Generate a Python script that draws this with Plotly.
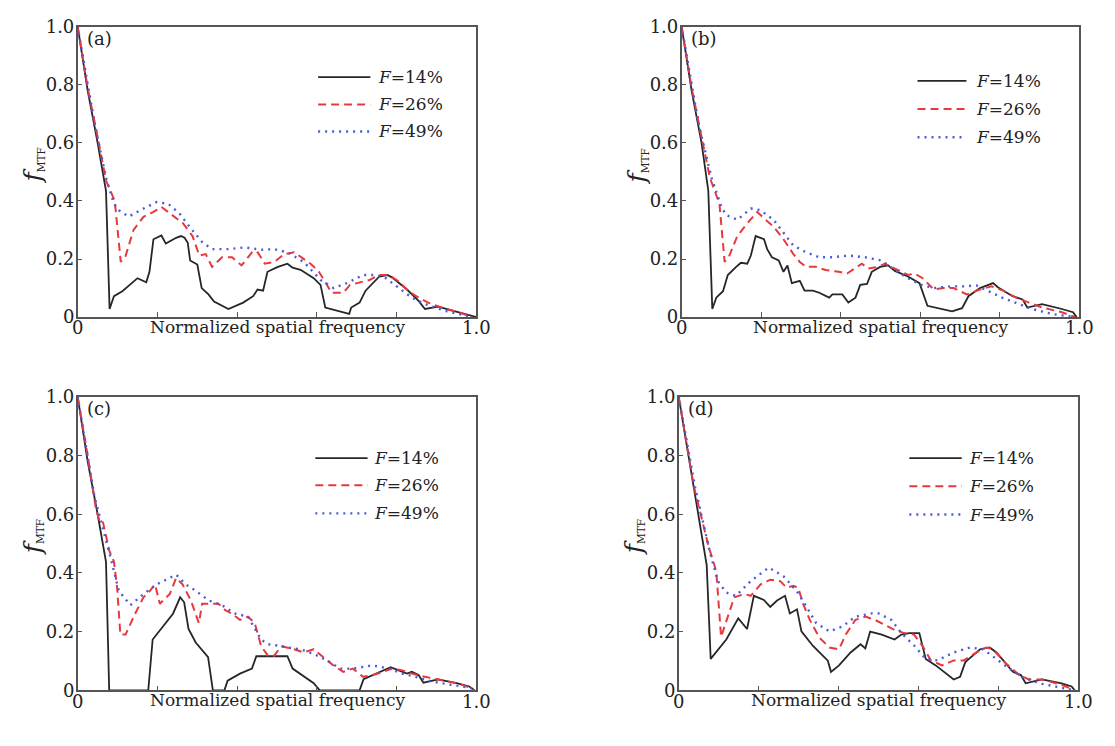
import plotly.graph_objects as go

# ---------------- data: (normalized spatial frequency, f_MTF) ----------------
a_F14 = [(0, 1.0), (0.025, 0.78), (0.05, 0.60), (0.071, 0.435), (0.080, 0.028), (0.091, 0.072), (0.112, 0.089),
         (0.150, 0.134), (0.172, 0.120), (0.180, 0.156), (0.190, 0.268), (0.210, 0.281), (0.221, 0.253),
         (0.247, 0.273), (0.259, 0.279), (0.268, 0.273), (0.276, 0.256), (0.282, 0.195), (0.300, 0.181),
         (0.311, 0.100), (0.328, 0.078), (0.342, 0.054), (0.378, 0.028), (0.415, 0.050), (0.440, 0.072),
         (0.451, 0.095), (0.465, 0.091), (0.476, 0.156), (0.502, 0.173), (0.526, 0.184), (0.539, 0.170),
         (0.559, 0.163), (0.592, 0.134), (0.609, 0.111), (0.621, 0.033), (0.681, 0.011), (0.686, 0.033),
         (0.707, 0.050), (0.722, 0.091), (0.756, 0.139), (0.777, 0.145), (0.789, 0.136), (0.826, 0.095),
         (0.855, 0.056), (0.871, 0.028), (0.904, 0.036), (0.954, 0.017), (0.987, 0.006), (1.0, 0.0)]
a_F26 = [(0, 1.0), (0.025, 0.79), (0.05, 0.62), (0.071, 0.47), (0.093, 0.40), (0.108, 0.19), (0.12, 0.21),
         (0.14, 0.30), (0.165, 0.345), (0.19, 0.362), (0.21, 0.379), (0.231, 0.357), (0.264, 0.323),
         (0.288, 0.279), (0.305, 0.212), (0.321, 0.217), (0.337, 0.173), (0.362, 0.206), (0.387, 0.206),
         (0.411, 0.178), (0.44, 0.228), (0.452, 0.222), (0.469, 0.184), (0.493, 0.19), (0.518, 0.217),
         (0.543, 0.223), (0.584, 0.184), (0.605, 0.156), (0.625, 0.111), (0.637, 0.084), (0.666, 0.084),
         (0.683, 0.111), (0.732, 0.128), (0.756, 0.145), (0.781, 0.145), (0.805, 0.123), (0.83, 0.089),
         (0.855, 0.067), (0.879, 0.05), (0.912, 0.033), (0.954, 0.017), (0.99, 0.0)]
a_F49 = [(0, 1.0), (0.042, 0.669), (0.071, 0.48), (0.091, 0.39), (0.103, 0.368), (0.128, 0.346), (0.157, 0.368),
         (0.198, 0.396), (0.227, 0.39), (0.255, 0.357), (0.28, 0.312), (0.313, 0.257), (0.337, 0.234),
         (0.378, 0.234), (0.42, 0.24), (0.461, 0.232), (0.493, 0.234), (0.526, 0.223), (0.567, 0.19),
         (0.609, 0.128), (0.642, 0.1), (0.675, 0.117), (0.716, 0.145), (0.748, 0.145), (0.773, 0.134),
         (0.806, 0.1), (0.838, 0.067), (0.871, 0.045), (0.92, 0.022), (0.97, 0.006), (0.99, 0.0)]

b_F14 = [(0, 1.0), (0.025, 0.78), (0.05, 0.60), (0.067, 0.435), (0.077, 0.028), (0.087, 0.067), (0.104, 0.089),
         (0.116, 0.145), (0.137, 0.173), (0.149, 0.187), (0.165, 0.184), (0.174, 0.212), (0.186, 0.279),
         (0.207, 0.268), (0.215, 0.234), (0.227, 0.206), (0.244, 0.195), (0.256, 0.156), (0.266, 0.178),
         (0.277, 0.117), (0.297, 0.125), (0.309, 0.091), (0.33, 0.091), (0.346, 0.084), (0.371, 0.067),
         (0.379, 0.078), (0.404, 0.078), (0.419, 0.05), (0.437, 0.067), (0.449, 0.111), (0.466, 0.114),
         (0.478, 0.156), (0.499, 0.173), (0.519, 0.178), (0.536, 0.159), (0.569, 0.14), (0.598, 0.117),
         (0.618, 0.039), (0.68, 0.02), (0.705, 0.031), (0.721, 0.072), (0.75, 0.1), (0.783, 0.117),
         (0.795, 0.103), (0.832, 0.072), (0.857, 0.061), (0.869, 0.033), (0.906, 0.045), (0.956, 0.028),
         (0.984, 0.017), (0.993, 0.0)]
b_F26 = [(0, 1.0), (0.025, 0.79), (0.05, 0.62), (0.071, 0.48), (0.095, 0.39), (0.108, 0.19), (0.12, 0.212),
         (0.14, 0.279), (0.165, 0.323), (0.19, 0.362), (0.211, 0.335), (0.231, 0.312), (0.256, 0.268),
         (0.281, 0.217), (0.297, 0.19), (0.313, 0.173), (0.338, 0.173), (0.362, 0.162), (0.395, 0.156),
         (0.416, 0.15), (0.453, 0.184), (0.469, 0.167), (0.494, 0.173), (0.511, 0.184), (0.536, 0.167),
         (0.569, 0.145), (0.585, 0.15), (0.606, 0.134), (0.634, 0.095), (0.659, 0.1), (0.684, 0.1),
         (0.717, 0.078), (0.75, 0.095), (0.779, 0.106), (0.808, 0.091), (0.841, 0.067), (0.873, 0.05),
         (0.906, 0.033), (0.956, 0.017), (0.989, 0.0)]
b_F49 = [(0, 1.0), (0.042, 0.669), (0.075, 0.48), (0.1, 0.379), (0.112, 0.351), (0.14, 0.335), (0.174, 0.374),
         (0.198, 0.368), (0.231, 0.335), (0.256, 0.29), (0.281, 0.246), (0.313, 0.223), (0.346, 0.206),
         (0.379, 0.206), (0.42, 0.212), (0.461, 0.206), (0.502, 0.195), (0.536, 0.162), (0.569, 0.134),
         (0.602, 0.111), (0.634, 0.1), (0.676, 0.106), (0.708, 0.106), (0.741, 0.109), (0.774, 0.089),
         (0.806, 0.067), (0.839, 0.05), (0.881, 0.028), (0.931, 0.011), (0.988, 0.0)]

c_F14 = [(0, 1.0), (0.025, 0.78), (0.05, 0.60), (0.071, 0.438), (0.079, 0.0), (0.177, 0.0), (0.188, 0.173),
         (0.214, 0.217), (0.239, 0.261), (0.257, 0.317), (0.267, 0.3), (0.278, 0.209), (0.296, 0.163),
         (0.327, 0.113), (0.339, 0.0), (0.368, 0.0), (0.376, 0.033), (0.407, 0.057), (0.437, 0.074),
         (0.448, 0.116), (0.526, 0.116), (0.539, 0.074), (0.592, 0.024), (0.607, 0.0), (0.707, 0.0),
         (0.717, 0.038), (0.748, 0.057), (0.785, 0.079), (0.805, 0.068), (0.826, 0.057), (0.838, 0.063),
         (0.855, 0.052), (0.867, 0.026), (0.904, 0.037), (0.953, 0.024), (0.982, 0.013), (0.995, 0.0)]
c_F26 = [(0, 1.0), (0.025, 0.80), (0.046, 0.615), (0.054, 0.582), (0.062, 0.582), (0.079, 0.477), (0.091, 0.438),
         (0.099, 0.35), (0.107, 0.19), (0.12, 0.19), (0.144, 0.261), (0.165, 0.317), (0.181, 0.339),
         (0.194, 0.361), (0.206, 0.295), (0.231, 0.328), (0.247, 0.383), (0.263, 0.361), (0.284, 0.306),
         (0.304, 0.229), (0.312, 0.295), (0.337, 0.295), (0.353, 0.295), (0.37, 0.273), (0.386, 0.262),
         (0.407, 0.24), (0.427, 0.251), (0.444, 0.229), (0.46, 0.151), (0.477, 0.118), (0.493, 0.118),
         (0.51, 0.15), (0.543, 0.14), (0.567, 0.129), (0.592, 0.14), (0.616, 0.113), (0.641, 0.085),
         (0.666, 0.063), (0.69, 0.074), (0.716, 0.046), (0.741, 0.052), (0.765, 0.063), (0.789, 0.074),
         (0.814, 0.068), (0.838, 0.057), (0.871, 0.046), (0.904, 0.037), (0.953, 0.024), (0.986, 0.008),
         (0.995, 0.0)]
c_F49 = [(0, 1.0), (0.042, 0.66), (0.083, 0.45), (0.103, 0.339), (0.132, 0.29), (0.165, 0.328), (0.198, 0.361),
         (0.247, 0.394), (0.271, 0.361), (0.296, 0.339), (0.329, 0.306), (0.362, 0.29), (0.394, 0.262),
         (0.427, 0.251), (0.46, 0.173), (0.477, 0.157), (0.51, 0.151), (0.526, 0.146), (0.559, 0.14),
         (0.592, 0.124), (0.625, 0.102), (0.658, 0.074), (0.69, 0.074), (0.74, 0.085), (0.781, 0.074),
         (0.814, 0.057), (0.847, 0.046), (0.888, 0.03), (0.937, 0.019), (0.986, 0.008), (0.995, 0.0)]

d_F14 = [(0, 1.0), (0.037, 0.692), (0.07, 0.427), (0.08, 0.107), (0.119, 0.173), (0.149, 0.245), (0.171, 0.209),
         (0.188, 0.322), (0.213, 0.308), (0.229, 0.284), (0.246, 0.306), (0.266, 0.322), (0.278, 0.262),
         (0.296, 0.276), (0.307, 0.201), (0.336, 0.151), (0.373, 0.101), (0.381, 0.063), (0.401, 0.085),
         (0.43, 0.129), (0.455, 0.157), (0.467, 0.143), (0.479, 0.2), (0.508, 0.19), (0.54, 0.173),
         (0.557, 0.19), (0.577, 0.195), (0.602, 0.195), (0.618, 0.107), (0.643, 0.085), (0.688, 0.037),
         (0.704, 0.046), (0.717, 0.096), (0.754, 0.14), (0.778, 0.146), (0.795, 0.129), (0.836, 0.063),
         (0.856, 0.052), (0.868, 0.024), (0.909, 0.037), (0.958, 0.024), (0.983, 0.013), (0.991, 0.0)]
d_F26 = [(0, 1.0), (0.037, 0.70), (0.074, 0.494), (0.094, 0.405), (0.106, 0.182), (0.139, 0.317), (0.164, 0.328),
         (0.18, 0.322), (0.205, 0.361), (0.229, 0.377), (0.254, 0.372), (0.27, 0.35), (0.287, 0.356),
         (0.299, 0.35), (0.311, 0.295), (0.328, 0.24), (0.352, 0.179), (0.377, 0.146), (0.401, 0.14),
         (0.418, 0.19), (0.442, 0.24), (0.467, 0.251), (0.491, 0.24), (0.516, 0.223), (0.54, 0.206),
         (0.565, 0.195), (0.589, 0.19), (0.61, 0.151), (0.631, 0.102), (0.659, 0.085), (0.688, 0.102),
         (0.713, 0.102), (0.745, 0.129), (0.77, 0.146), (0.786, 0.14), (0.819, 0.091), (0.852, 0.052),
         (0.876, 0.037), (0.909, 0.037), (0.958, 0.019), (0.991, 0.0)]
d_F49 = [(0, 1.0), (0.041, 0.692), (0.078, 0.471), (0.098, 0.372), (0.119, 0.333), (0.143, 0.322), (0.18, 0.372),
         (0.225, 0.418), (0.262, 0.389), (0.295, 0.339), (0.32, 0.284), (0.344, 0.229), (0.377, 0.201),
         (0.41, 0.218), (0.442, 0.251), (0.483, 0.262), (0.5, 0.262), (0.532, 0.24), (0.557, 0.195),
         (0.59, 0.151), (0.618, 0.107), (0.647, 0.102), (0.688, 0.129), (0.729, 0.146), (0.762, 0.14),
         (0.795, 0.107), (0.827, 0.074), (0.86, 0.046), (0.901, 0.024), (0.942, 0.013), (0.991, 0.0)]

panel_labels = ["(a)", "(b)", "(c)", "(d)"]
series_names = ["<i>F</i>=14%", "<i>F</i>=26%", "<i>F</i>=49%"]
panel_series = [[a_F14, a_F26, a_F49], [b_F14, b_F26, b_F49],
                [c_F14, c_F26, c_F49], [d_F14, d_F26, d_F49]]
y_tick_vals = [0, 0.2, 0.4, 0.6, 0.8, 1.0]
y_tick_text = ["0", "0.2", "0.4", "0.6", "0.8", "1.0"]
x_label_vals = [0, 1.0]          # x tick labels visible in the figure
x_label_text = ["0", "1.0"]
x_minor_vals = [0.2, 0.4, 0.6, 0.8]  # tick marks whose labels are hidden under the axis title
x_title = "Normalized spatial frequency"
y_title = "<i><span style='font-size:25px'>f</span></i><sub>MTF</sub>"

# ---------------- styles / layout ----------------
W, H = 1115, 746
FONT = "DejaVu Serif"
styles = [dict(color="#262626", width=1.8, dash="solid"),
          dict(color="#e8383d", width=2.0, dash="8px,5px"),
          dict(color="#4a5ad8", width=2.4, dash="2px,5px")]

# pixel boxes of each plot area (left, right, top, bottom)
boxes = [(73, 479, 16, 315), (688, 1093, 16, 315), (73, 479, 397, 699), (685, 1092, 397, 699)]
# legend placement in axis-domain fractions: line start, line end, text start, row y's
legend_pos = [(0.603, 0.734, 0.749, [0.826, 0.732, 0.639]),
              (0.593, 0.716, 0.736, [0.813, 0.716, 0.619]),
              (0.596, 0.727, 0.739, [0.791, 0.699, 0.603]),
              (0.577, 0.708, 0.722, [0.791, 0.695, 0.599])]

fig = go.Figure()
layout = dict(width=W, height=H, margin=dict(l=0, r=0, t=0, b=0), autosize=False,
              paper_bgcolor="white", plot_bgcolor="white", showlegend=False,
              font=dict(family=FONT, color="#222222"))
annotations, shapes = [], []

axis_common = dict(range=[0, 1], showgrid=False, zeroline=False, showline=True, mirror=True,
                   linecolor="#555555", linewidth=1.5, ticks="inside", ticklen=5, tickwidth=1.3,
                   tickcolor="#555555", tickfont=dict(family=FONT, size=18, color="#222222"))

for i in range(4):
    l, r, t, b = boxes[i]
    xn = "x" if i == 0 else f"x{i+1}"
    yn = "y" if i == 0 else f"y{i+1}"
    xk = "xaxis" if i == 0 else f"xaxis{i+1}"
    yk = "yaxis" if i == 0 else f"yaxis{i+1}"
    layout[xk] = dict(axis_common, domain=[l / W, r / W], anchor=yn,
                      tickvals=x_label_vals, ticktext=x_label_text, ticklabelstandoff=-6,
                      minor=dict(tickvals=x_minor_vals, ticks="inside", ticklen=5, tickwidth=1.3,
                                 tickcolor="#555555", showgrid=False))
    layout[yk] = dict(axis_common, domain=[1 - b / H, 1 - t / H], anchor=xn,
                      tickvals=y_tick_vals, ticktext=y_tick_text, ticklabelstandoff=-2)
    for s, pts in enumerate(panel_series[i]):
        fig.add_trace(go.Scatter(x=[p[0] for p in pts], y=[p[1] for p in pts], mode="lines",
                                 line=styles[s], xaxis=xn, yaxis=yn, name=series_names[s],
                                 hoverinfo="skip"))
    xd, yd = f"{xn} domain", f"{yn} domain"
    h = b - t
    wdt = r - l
    # axis titles
    annotations.append(dict(text=x_title, xref=xd, yref=yd, x=0.5, y=-10 / h, showarrow=False,
                            xanchor="center", yanchor="middle",
                            font=dict(family=FONT, size=17, color="#222222")))
    annotations.append(dict(text=y_title, xref=xd, yref=yd, x=-46 / wdt, y=0.52, showarrow=False,
                            textangle=-90, xanchor="center", yanchor="middle",
                            font=dict(family=FONT, size=15, color="#222222")))
    annotations.append(dict(text=panel_labels[i], xref=xd, yref=yd, x=7 / wdt, y=0.96, showarrow=False,
                            xanchor="left", yanchor="middle",
                            font=dict(family=FONT, size=18, color="#222222")))
    # legend
    x0, x1, xt, rows = legend_pos[i]
    for s in range(3):
        shapes.append(dict(type="line", xref=xd, yref=yd, x0=x0, x1=x1, y0=rows[s], y1=rows[s],
                           line=dict(color=styles[s]["color"], width=styles[s]["width"],
                                     dash=styles[s]["dash"])))
        annotations.append(dict(text=series_names[s], xref=xd, yref=yd, x=xt, y=rows[s], showarrow=False,
                                xanchor="left", yanchor="middle",
                                font=dict(family=FONT, size=17, color="#222222")))

layout["annotations"] = annotations
layout["shapes"] = shapes
fig.update_layout(**layout)
fig.write_html("out.html")
